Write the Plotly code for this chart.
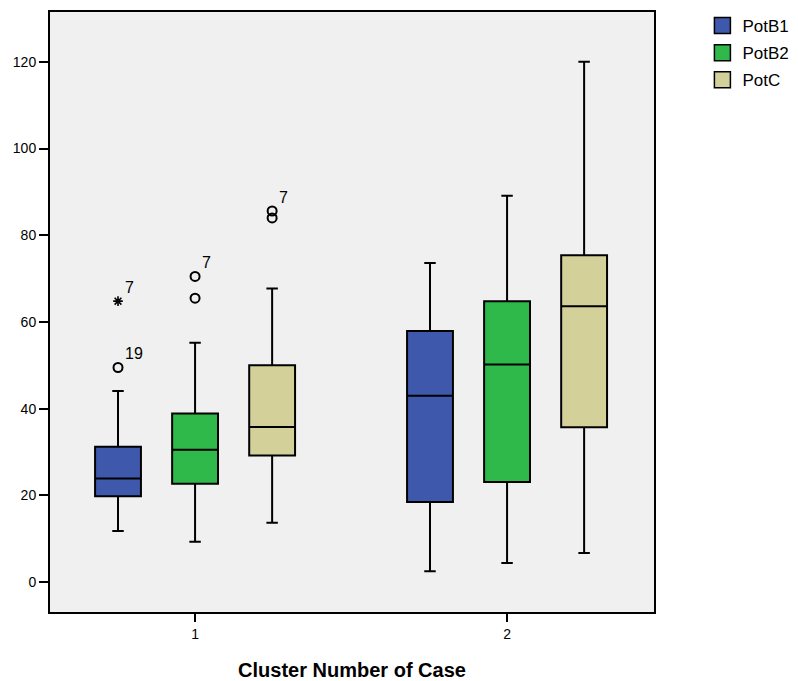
import plotly.graph_objects as go

# ---- data ----
clusters = [1, 2]
tick_labels = ["1", "2"]
series_names = ["PotB1", "PotB2", "PotC"]
series_colors = ["#3E58AB", "#2FB94A", "#D4D09A"]

PotB1_lower = [11.8, 2.5]
PotB1_q1 = [19.8, 18.5]
PotB1_median = [23.9, 43.0]
PotB1_q3 = [31.2, 57.9]
PotB1_upper = [44.1, 73.6]

PotB2_lower = [9.3, 4.4]
PotB2_q1 = [22.7, 23.1]
PotB2_median = [30.5, 50.2]
PotB2_q3 = [38.9, 64.8]
PotB2_upper = [55.2, 89.1]

PotC_lower = [13.7, 6.7]
PotC_q1 = [29.2, 35.7]
PotC_median = [35.8, 63.6]
PotC_q3 = [50.0, 75.4]
PotC_upper = [67.7, 120.0]

outlier_series = ["PotB1", "PotB1", "PotB2", "PotB2", "PotC", "PotC"]
outlier_cluster = [1, 1, 1, 1, 1, 1]
outlier_values = [64.8, 49.5, 70.5, 65.5, 85.6, 84.0]
outlier_kind = ["extreme", "mild", "mild", "mild", "mild", "mild"]
outlier_labels = ["7", "19", "7", "", "7", ""]

stats = {
    "PotB1": (PotB1_lower, PotB1_q1, PotB1_median, PotB1_q3, PotB1_upper),
    "PotB2": (PotB2_lower, PotB2_q1, PotB2_median, PotB2_q3, PotB2_upper),
    "PotC": (PotC_lower, PotC_q1, PotC_median, PotC_q3, PotC_upper),
}

group_step = 0.247
box_w = 0.147
offsets = {name: (i - 1) * group_step for i, name in enumerate(series_names)}

FONT = "Liberation Sans, Arial, Helvetica, sans-serif"

fig = go.Figure()

for name, color in zip(series_names, series_colors):
    lo, q1, med, q3, up = stats[name]
    xs = [c + offsets[name] for c in clusters]
    fig.add_trace(go.Box(
        x=xs, lowerfence=lo, q1=q1, median=med, q3=q3, upperfence=up,
        width=box_w, whiskerwidth=0.25,
        fillcolor=color, line=dict(color="black", width=2),
        boxpoints=False, showlegend=False, name=name, hoverinfo="skip",
    ))
    # legend entry
    fig.add_trace(go.Scatter(
        x=[None], y=[None], mode="markers", name=name, legendgroup=name,
        marker=dict(symbol="square", size=19, color=color,
                    line=dict(color="black", width=1.5)),
    ))

# outliers
for kind, sym, size, lw in [("mild", "circle-open", 9, 2), ("extreme", "asterisk-open", 8, 1.6)]:
    xs, ys = [], []
    for s, c, v, k in zip(outlier_series, outlier_cluster, outlier_values, outlier_kind):
        if k == kind:
            xs.append(c + offsets[s])
            ys.append(v)
    fig.add_trace(go.Scatter(
        x=xs, y=ys, mode="markers", showlegend=False, hoverinfo="skip",
        marker=dict(symbol=sym, size=size, color="black",
                    line=dict(color="black", width=lw)),
    ))

for s, c, v, lab in zip(outlier_series, outlier_cluster, outlier_values, outlier_labels):
    if lab:
        fig.add_annotation(
            x=c + offsets[s], y=v, text=lab, showarrow=False,
            xanchor="left", yanchor="bottom", xshift=5, yshift=3,
            font=dict(family=FONT, size=16, color="black"),
        )

# the page body adds an 8 px offset, so the figure is 8 px smaller and shifted
fig.update_layout(
    width=790, height=673,
    margin=dict(l=42, r=144, t=4, b=69, autoexpand=False),
    paper_bgcolor="white", plot_bgcolor="#F0F0F0",
    font=dict(family=FONT, size=14, color="black"),
    legend=dict(xref="container", yref="container", x=0.879, y=1.0,
                xanchor="left", yanchor="top",
                font=dict(size=17, color="black"), itemsizing="trace",
                tracegroupgap=2, bgcolor="rgba(0,0,0,0)"),
    xaxis=dict(
        range=[0.535, 2.471], tickmode="array", tickvals=clusters, ticktext=tick_labels,
        automargin=False,
        showgrid=False, zeroline=False, showline=True, linecolor="black", linewidth=2,
        mirror=True, ticks="outside", ticklen=8, tickwidth=2, tickcolor="black",
        tickfont=dict(size=14, color="black"),
        title=dict(text="<b>Cluster Number of Case</b>", font=dict(size=20, color="black"), standoff=22),
    ),
    yaxis=dict(
        range=[-6.9, 131.5], tickmode="array", tickvals=[0, 20, 40, 60, 80, 100, 120],
        automargin=False,
        showgrid=False, zeroline=False, showline=True, linecolor="black", linewidth=2,
        mirror=True, ticks="outside", ticklen=9, tickwidth=2, tickcolor="black",
        tickfont=dict(size=14, color="black"),
    ),
)

fig.write_html("out.html")
